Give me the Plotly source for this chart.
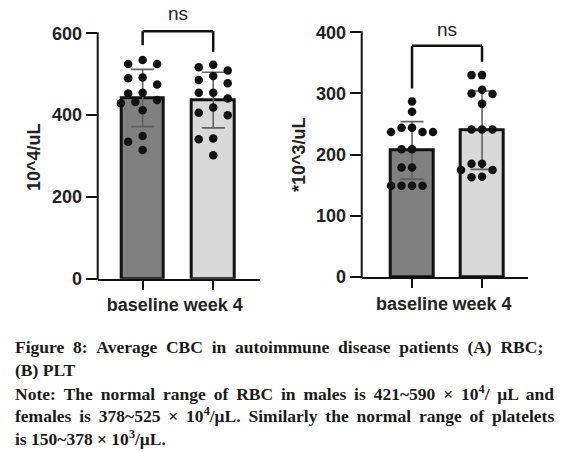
import plotly.graph_objects as go

# ---------------- data ----------------
categories = ["baseline", "week 4"]

rbc_baseline = [535, 525, 525, 492, 490, 475, 455, 453, 437, 432, 429, 412, 349, 335, 315]
rbc_week4 = [523, 517, 509, 496, 486, 478, 455, 455, 441, 419, 406, 400, 343, 341, 302]
rbc_mean = [442, 437]
rbc_sd = [70, 68]

plt_baseline = [287, 270, 244, 244, 237, 237, 237, 209, 209, 179, 179, 149, 149, 149, 149]
plt_week4 = [330, 330, 306, 300, 299, 283, 241, 241, 241, 185, 185, 175, 175, 164, 163]
plt_mean = [207, 240]
plt_sd = [47, 64]

rbc_ticks = [0, 200, 400, 600]
plt_ticks = [0, 100, 200, 300, 400]

sig_label = "ns"
rbc_title = "10^4/uL"
plt_title = "*10^3/uL"

caption_lines = [
    "Figure 8: Average CBC in autoimmune disease patients (A) RBC;",
    "(B) PLT",
    "Note: The normal range of RBC in males is 421~590 × 10<sup>4</sup>/ μL and",
    "females is 378~525 × 10<sup>4</sup>/μL. Similarly the normal range of platelets",
    "is 150~378 × 10<sup>3</sup>/μL.",
]
# justified lines in the reference: extra spacing character added at each word gap
caption_gap = ["\u00a0", None, "\u2009", "\u2009", None]

# ---------------- layout geometry ----------------
W, H = 567, 452
OFF = 8  # the page body margin shifts the figure by 8 px
SANS = "Liberation Sans, Arial, sans-serif"
SERIF = "Liberation Serif, Times New Roman, serif"
BAR_COLORS = ["#808080", "#d9d9d9"]
BAR_WIDTH = 0.607


def px(x):
    return (x - OFF) / W


def py(y):
    return (H - (y - OFF)) / H


panels = [
    dict(xdom=(97.7, 260.3), xr=(-0.637, 1.667), ydom_px=(278.7, 25.2), yr=(0, 620),
         axis_top=600, ticks=rbc_ticks, groups=[rbc_baseline, rbc_week4],
         mean=rbc_mean, sd=rbc_sd, title=rbc_title, title_pos=(33.3, 156.7),
         bracket=(605, 571, 555), ns_px=(178, 13.8), step=14.5),
    dict(xdom=(361.7, 528.3), xr=(-0.719, 1.661), ydom_px=(277.0, 32.3), yr=(0, 400),
         axis_top=400, ticks=plt_ticks, groups=[plt_baseline, plt_week4],
         mean=plt_mean, sd=plt_sd, title=plt_title, title_pos=(299, 155),
         bracket=(378, 308, 352), ns_px=(447, 29.3), step=10.5),
]


def swarm(values, center, ppx, ppy, step=11.0, diam=10.0):
    placed, xs = [], []
    for v in values:
        dx = 0.0
        for c in [0, -1, 1, -0.5, 0.5, -1.5, 1.5, -2, 2, -2.5, 2.5, -3, 3]:
            dx = c * step
            if all((dx - pdx) ** 2 + ((v - pv) * ppy) ** 2 >= diam ** 2 for pdx, pv in placed):
                break
        placed.append((dx, v))
        xs.append(center + dx / ppx)
    return xs


fig = go.Figure()
shapes, annotations = [], []

for i, p in enumerate(panels, start=1):
    xa = "x" if i == 1 else f"x{i}"
    ya = "y" if i == 1 else f"y{i}"
    xdom = [px(p["xdom"][0]), px(p["xdom"][1])]
    ydom = [py(p["ydom_px"][0]), py(p["ydom_px"][1])]
    ppx = (p["xdom"][1] - p["xdom"][0]) / (p["xr"][1] - p["xr"][0])
    ppy = (p["ydom_px"][0] - p["ydom_px"][1]) / (p["yr"][1] - p["yr"][0])

    fig.add_trace(go.Bar(
        x=[0, 1], y=p["mean"], width=BAR_WIDTH, xaxis=xa, yaxis=ya,
        marker=dict(color=BAR_COLORS, line=dict(color="#111111", width=3)),
        error_y=dict(type="data", array=p["sd"], visible=True, color="#606060",
                     thickness=1.6, width=11.5),
        showlegend=False, hoverinfo="skip",
    ))
    for j, vals in enumerate(p["groups"]):
        fig.add_trace(go.Scatter(
            x=swarm(vals, j, ppx, ppy, step=p["step"]), y=vals, mode="markers",
            xaxis=xa, yaxis=ya,
            marker=dict(color="#111111", size=8.5, line=dict(width=0)),
            showlegend=False, hoverinfo="skip", cliponaxis=False,
        ))

    layout_x = dict(domain=xdom, range=list(p["xr"]), tickmode="array", tickvals=[0, 1],
                    ticktext=categories, ticks="outside", ticklen=9, tickwidth=2,
                    tickcolor="#111111", showline=True, linewidth=2, linecolor="#111111",
                    showgrid=False, zeroline=False, anchor=ya, automargin=False,
                    tickfont=dict(family=SANS, size=18, color="#222222", weight="bold"))
    layout_y = dict(domain=ydom, range=list(p["yr"]), tickmode="array", tickvals=p["ticks"],
                    ticks="outside", ticklen=11, tickwidth=2, tickcolor="#111111",
                    showline=False, showgrid=False, zeroline=False, anchor=xa, automargin=False,
                    tickfont=dict(family=SANS, size=18, color="#222222", weight="bold"))
    fig.update_layout(**{("xaxis" if i == 1 else f"xaxis{i}"): layout_x,
                         ("yaxis" if i == 1 else f"yaxis{i}"): layout_y})

    # y-axis line from 0 to the top tick
    y0p = ydom[0]
    y1p = ydom[0] + (p["axis_top"] - p["yr"][0]) / (p["yr"][1] - p["yr"][0]) * (ydom[1] - ydom[0])
    shapes.append(dict(type="line", xref="paper", yref="paper", x0=xdom[0], x1=xdom[0],
                       y0=y0p - 1 / H, y1=y1p + 1 / H, line=dict(color="#111111", width=2)))

    # significance bracket
    top, lleg, rleg = p["bracket"]
    for (xx0, yy0, xx1, yy1) in [(0, top, 1, top), (0, lleg, 0, top), (1, rleg, 1, top)]:
        shapes.append(dict(type="line", xref=xa, yref=ya, x0=xx0, x1=xx1, y0=yy0, y1=yy1,
                           line=dict(color="#111111", width=2.5)))
    nx, ny = p["ns_px"]
    annotations.append(dict(text=sig_label, xref="paper", yref="paper", x=px(nx), y=py(ny),
                            xanchor="center", yanchor="middle", showarrow=False,
                            font=dict(family=SANS, size=19, color="#222222")))

    # axis title
    tx, ty = p["title_pos"]
    annotations.append(dict(text=p["title"], xref="paper", yref="paper", x=px(tx), y=py(ty),
                            xanchor="center", yanchor="middle", textangle=-90, showarrow=False,
                            font=dict(family=SANS, size=18, color="#222222", weight="bold")))

# caption
baselines = [352.7, 375.0, 398.3, 420.7, 443.3]
for line, gap, b in zip(caption_lines, caption_gap, baselines):
    txt = line.replace(" ", " " + gap) if gap else line
    annotations.append(dict(text=txt, xref="paper", yref="paper", x=px(12.7), y=py(b - 5.5),
                            xanchor="left", yanchor="middle", showarrow=False,
                            font=dict(family=SERIF, size=17.5, color="#1a1a1a", weight="bold")))

fig.update_layout(
    width=W, height=H, margin=dict(l=0, r=0, t=0, b=0, autoexpand=False),
    paper_bgcolor="white", plot_bgcolor="white",
    shapes=shapes, annotations=annotations, bargap=0,
)

fig.write_html("out.html")
